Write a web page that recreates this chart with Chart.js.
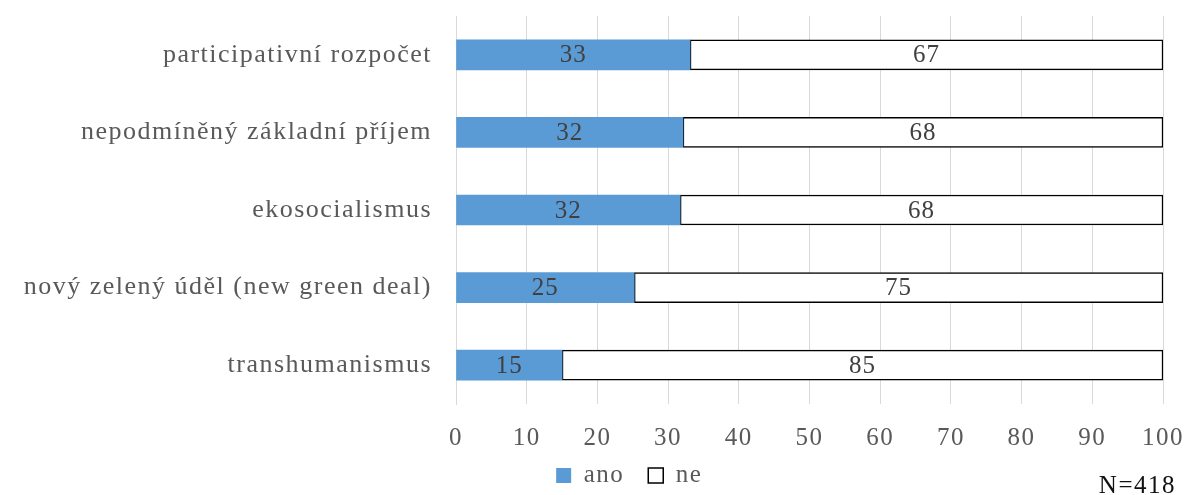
<!DOCTYPE html>
<html><head><meta charset="utf-8">
<script src="https://cdn.jsdelivr.net/npm/chart.js@4"></script>
<style>html,body{margin:0;padding:0;background:#fff}#wrap{width:1187px;height:495px}</style>
</head><body><div id="wrap"><canvas id="c" width="1187" height="495"></canvas></div>
<script>
const categories = ["participativní rozpočet","nepodmíněný základní příjem","ekosocialismus","nový zelený úděl (new green deal)","transhumanismus"];
const anoValues = [33.1, 32.1, 31.7, 25.2, 15.0];
const neValues = [66.9, 67.9, 68.3, 74.8, 85.0];
const xTicks = [0,10,20,30,40,50,60,70,80,90,100];
const seriesNames = ["ano","ne"];
const noteText = "N=418";

const FONT = "'Liberation Serif', 'Times New Roman', serif";
const LEGEND_SHIFT_X = 44;
const LEGEND_SHIFT_Y = -12;
const labelPlugin = {
  id: 'segLabels',
  afterLayout(chart) {
    const lg = chart.legend;
    if (lg) {
      lg.left += LEGEND_SHIFT_X; lg.right += LEGEND_SHIFT_X;
      lg.top += LEGEND_SHIFT_Y; lg.bottom += LEGEND_SHIFT_Y;
    }
  },
  beforeDraw(chart) {
    chart.ctx.letterSpacing = '1.5px';
  },
  afterDatasetsDraw(chart) {
    const ctx = chart.ctx;
    ctx.save();
    ctx.font = "25px " + FONT;
    ctx.letterSpacing = '1px';
    ctx.fillStyle = "#404040";
    ctx.textAlign = "center";
    ctx.textBaseline = "middle";
    chart.data.datasets.forEach((ds, di) => {
      const meta = chart.getDatasetMeta(di);
      meta.data.forEach((bar, i) => {
        const v = ds.data[i];
        const x = (bar.x + bar.base) / 2;
        ctx.fillText(Math.round(v).toString(), x, bar.y + 1);
      });
    });
    ctx.restore();
  },
  afterDraw(chart) {
    const ctx = chart.ctx;
    ctx.save();
    ctx.font = "25px " + FONT;
    ctx.letterSpacing = '1.5px';
    ctx.fillStyle = "#111111";
    ctx.textAlign = "right";
    ctx.textBaseline = "middle";
    ctx.fillText(noteText, 1176, 486);
    ctx.restore();
  }
};

new Chart(document.getElementById('c'), {
  type: 'bar',
  data: {
    labels: categories,
    datasets: [
      {label: seriesNames[0], data: anoValues, backgroundColor: '#5b9bd5', borderWidth: 0, barThickness: 30},
      {label: seriesNames[1], data: neValues, backgroundColor: '#ffffff', borderColor: '#000000', borderWidth: 1.5, borderSkipped: false, barThickness: 30}
    ]
  },
  options: {
    indexAxis: 'y',
    responsive: false,
    animation: false,
    devicePixelRatio: 1,
    layout: {padding: {top: 16, right: 24, left: 0, bottom: -15}},
    scales: {
      x: {
        stacked: true, min: 0, max: 100,
        afterBuildTicks(s) { s.ticks = xTicks.map(v => ({value: v})); },
        afterFit(s) { s.height = 47; s.paddingLeft = 0; s.paddingRight = 0; },
        grid: {color: '#d9d9d9', drawTicks: false, lineWidth: 1},
        border: {display: false},
        ticks: {font: {family: FONT, size: 25}, color: '#595959', padding: 19, maxRotation: 0}
      },
      y: {
        stacked: true,
        afterFit(s) { s.width = 456; },
        grid: {display: true, drawOnChartArea: false, drawTicks: true, tickLength: 24, tickColor: 'rgba(0,0,0,0)'},
        border: {display: true, color: '#d9d9d9'},
        ticks: {font: {family: FONT, size: 26}, color: '#595959', padding: 0}
      }
    },
    plugins: {
      legend: {
        position: 'bottom',
        labels: {
          font: {family: FONT, size: 25}, color: '#595959',
          boxWidth: 15, boxHeight: 15, padding: 24
        }
      },
      tooltip: {enabled: false}
    }
  },
  plugins: [labelPlugin]
});
</script></body></html>
